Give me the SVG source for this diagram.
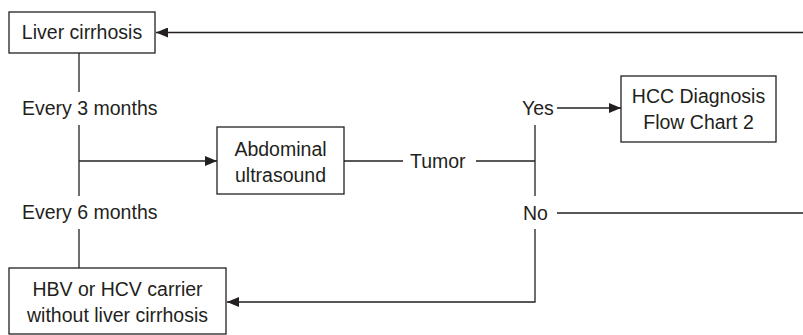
<svg xmlns="http://www.w3.org/2000/svg" width="803" height="335" viewBox="0 0 803 335">
<style>
.box{fill:#fff;stroke:#231f20;stroke-width:1.3}
.ln{fill:none;stroke:#231f20;stroke-width:1.3}
text{font-family:"Liberation Sans",Arial,sans-serif;font-size:19.5px;fill:#231f20}
.c{text-anchor:middle}
</style>
<defs>
<marker id="ah" viewBox="0 0 12 10" refX="12" refY="5" markerWidth="12" markerHeight="10" markerUnits="userSpaceOnUse" orient="auto">
<path d="M0,0 L12,5 L0,10 Z" fill="#231f20"/>
</marker>
</defs>
<g id="connectors">
<path class="ln" d="M803,32.5 H156" marker-end="url(#ah)"/>
<path class="ln" d="M79,53 V92"/>
<text x="22" y="115">Every 3 months</text>
<path class="ln" d="M79,125 V196"/>
<path class="ln" d="M79,161 H217" marker-end="url(#ah)"/>
<text x="22" y="219">Every 6 months</text>
<path class="ln" d="M79,229 V268"/>
<path class="ln" d="M344,161 H403"/>
<text x="410" y="168">Tumor</text>
<path class="ln" d="M476,161 H535"/>
<path class="ln" d="M535,125 V196"/>
<text x="522" y="115">Yes</text>
<path class="ln" d="M557,108 H621" marker-end="url(#ah)"/>
<text x="523" y="220">No</text>
<path class="ln" d="M557,213 H803"/>
<path class="ln" d="M535,229 V302 H227" marker-end="url(#ah)"/>
</g>
<g id="liver-cirrhosis">
<rect class="box" x="9" y="12" width="146" height="41"/>
<text class="c" x="82" y="39">Liver cirrhosis</text>
</g>
<g id="abdominal-ultrasound">
<rect class="box" x="217" y="127" width="127" height="67"/>
<text class="c" x="280.5" y="156">Abdominal</text>
<text class="c" x="280.5" y="182">ultrasound</text>
</g>
<g id="hcc-diagnosis">
<rect class="box" x="621" y="76" width="155" height="66"/>
<text class="c" x="698.5" y="103">HCC Diagnosis</text>
<text class="c" x="698.5" y="129">Flow Chart 2</text>
</g>
<g id="hbv-hcv-carrier">
<rect class="box" x="9" y="268" width="217" height="66"/>
<text class="c" x="117.5" y="296">HBV or HCV carrier</text>
<text class="c" x="117.5" y="322">without liver cirrhosis</text>
</g>
</svg>
